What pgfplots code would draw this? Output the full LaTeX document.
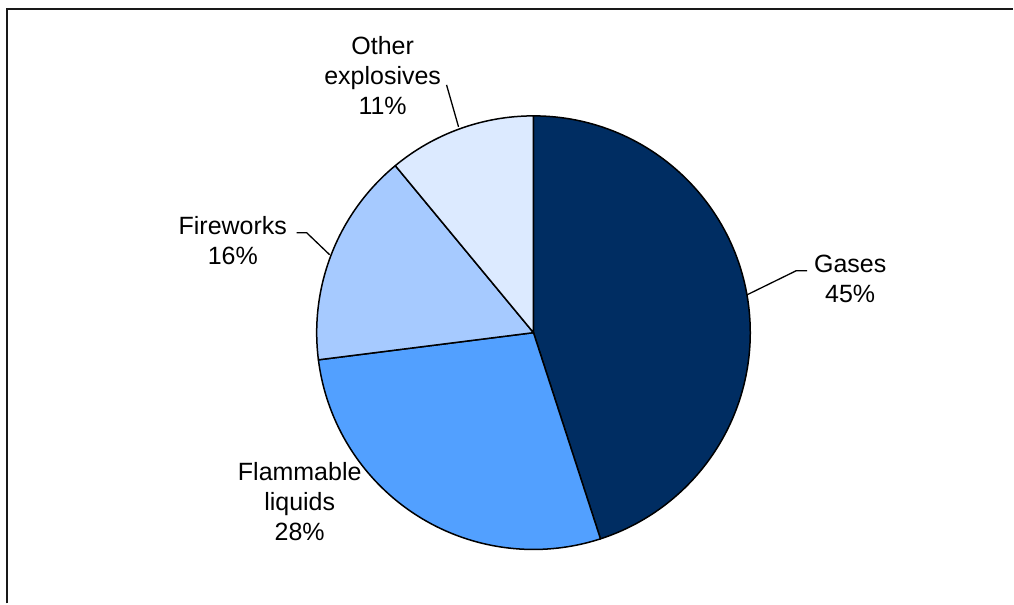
\documentclass[border=0pt]{standalone}
\usepackage{pgfplots}
\usepackage{pgfplotstable}
\pgfplotsset{compat=1.18}
\usepackage{fontspec}
\setmainfont{Liberation Sans}

\definecolor{gasc}{RGB}{0,45,98}
\definecolor{flamc}{RGB}{82,160,255}
\definecolor{firec}{RGB}{166,202,255}
\definecolor{othc}{RGB}{220,234,255}

% share of incidents by class of dangerous goods (per cent)
\pgfplotstableread{
share
45
28
16
11
}\piedata

\newcommand\pieang[1]{\csname pieang#1\endcsname}
\newcommand\cx{534}
\newcommand\cy{271}
\newcommand\rad{217}

\begin{document}
\begin{tikzpicture}
% boundary angles of the slices, clockwise from 12 o'clock
\pgfmathsetmacro\cur{90}
\expandafter\xdef\csname pieang0\endcsname{90}
\pgfplotsforeachungrouped \i in {0,...,3}{%
  \pgfplotstablegetelem{\i}{share}\of\piedata
  \pgfmathsetmacro\cur{\cur-3.6*\pgfplotsretval}%
  \pgfmathtruncatemacro\j{\i+1}%
  \expandafter\xdef\csname pieang\j\endcsname{\cur}%
}
\begin{axis}[
  x=1pt, y=1pt,
  xmin=0, xmax=1014, ymin=0, ymax=604,
  hide axis, clip=false,
]
% full drawing area
\path (axis cs:0,0) rectangle (axis cs:1014,604);

\fill[gasc, draw=black, line width=1.5pt, line join=round]
  (axis cs:\cx,\cy) -- (axis cs:{\cx+\rad*cos(\pieang0)},{\cy+\rad*sin(\pieang0)})
  arc[start angle=\pieang0, end angle=\pieang1, radius=\rad pt] -- cycle;
\fill[flamc, draw=black, line width=1.5pt, line join=round]
  (axis cs:\cx,\cy) -- (axis cs:{\cx+\rad*cos(\pieang1)},{\cy+\rad*sin(\pieang1)})
  arc[start angle=\pieang1, end angle=\pieang2, radius=\rad pt] -- cycle;
\fill[firec, draw=black, line width=1.5pt, line join=round]
  (axis cs:\cx,\cy) -- (axis cs:{\cx+\rad*cos(\pieang2)},{\cy+\rad*sin(\pieang2)})
  arc[start angle=\pieang2, end angle=\pieang3, radius=\rad pt] -- cycle;
\fill[othc, draw=black, line width=1.5pt, line join=round]
  (axis cs:\cx,\cy) -- (axis cs:{\cx+\rad*cos(\pieang3)},{\cy+\rad*sin(\pieang3)})
  arc[start angle=\pieang3, end angle=\pieang4, radius=\rad pt] -- cycle;

% leader lines
\draw[line width=1.3pt] (axis cs:748,309) -- (axis cs:797,333) -- (axis cs:808,333);
\draw[line width=1.3pt] (axis cs:297,371) -- (axis cs:307,371) -- (axis cs:330,349);
\draw[line width=1.3pt] (axis cs:447,519) -- (axis cs:459,477);

% slice labels
\begin{scope}[every node/.style={align=center, font=\fontsize{25}{30}\selectfont}]
\node at (axis cs:851,325) {Gases\\45\%};
\node at (axis cs:233,363) {Fireworks\\16\%};
\node at (axis cs:383,528) {Other\\explosives\\11\%};
\node at (axis cs:300,101.5) {Flammable\\liquids\\28\%};
\end{scope}

% chart area frame
\draw[line width=2pt, black!90] (axis cs:7.5,0) -- (axis cs:7.5,595) -- (axis cs:1014,595);
\end{axis}
\end{tikzpicture}
\end{document}
